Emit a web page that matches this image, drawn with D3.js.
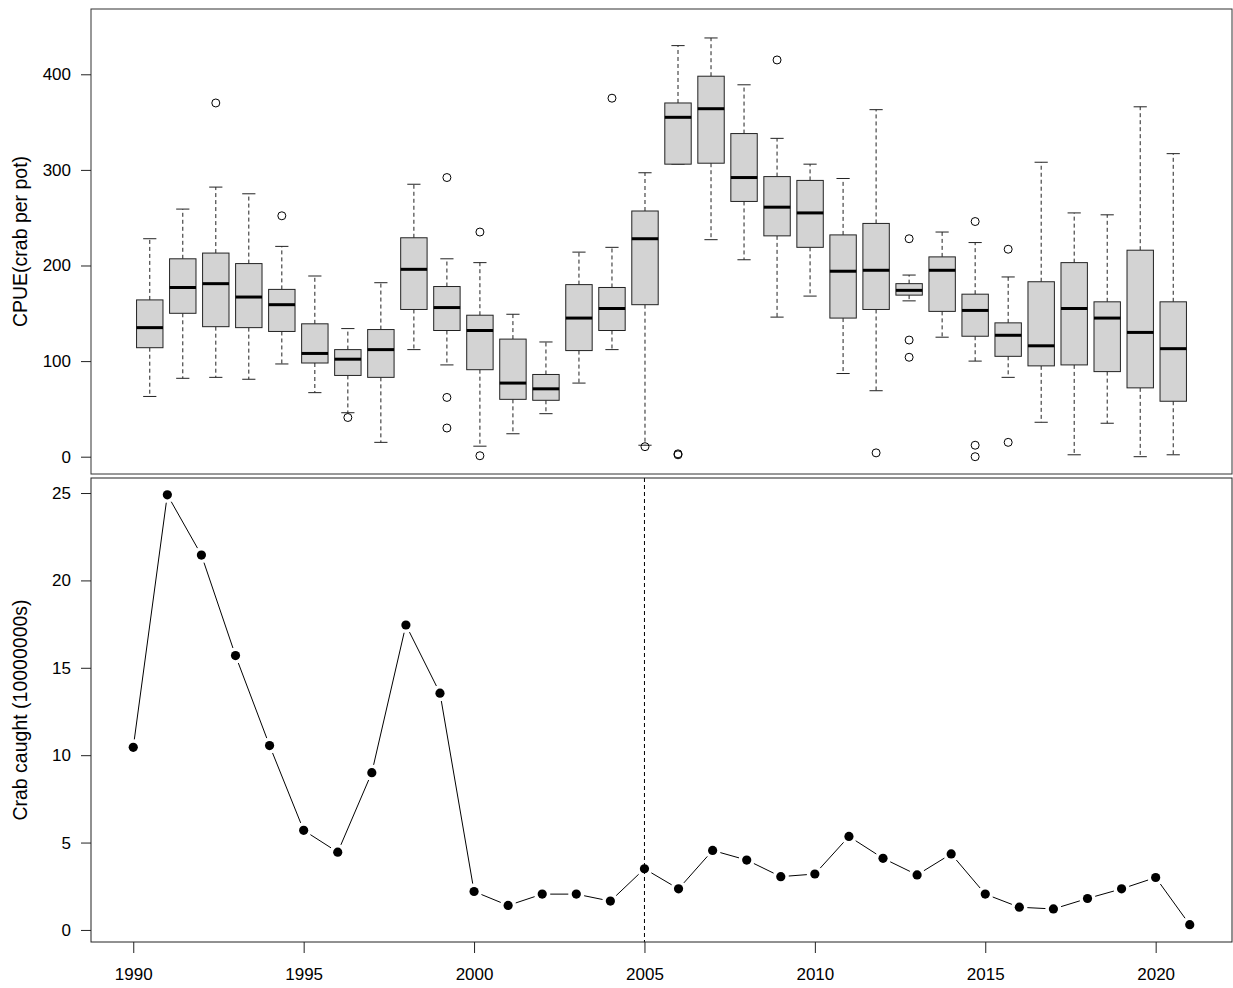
<!DOCTYPE html>
<html>
<head>
<meta charset="utf-8">
<script src="https://d3js.org/d3.v7.min.js"></script>
<style>
  body { margin: 0; background: #fff; }
  text { font-family: "Liberation Sans", Arial, sans-serif; }
</style>
</head>
<body>
<svg id="chart" width="1233" height="988"></svg>
<script>
// years of the survey
var years = [1990,1991,1992,1993,1994,1995,1996,1997,1998,1999,2000,2001,2002,2003,2004,2005,
             2006,2007,2008,2009,2010,2011,2012,2013,2014,2015,2016,2017,2018,2019,2020,2021];

// boxplot stats of CPUE
var whiskLo = [63,82,83,81,97,67,46,15,112,96,11,24,45,77,112,12,306,227,206,146,168,87,69,163,125,100,83,36,2,35,0,2];
var q1      = [114,150,136,135,131,98,85,83,154,132,91,60,59,111,132,159,306,307,267,231,219,145,154,169,152,126,105,95,96,89,72,58];
var med     = [135,177,181,167,159,108,102,112,196,156,132,77,71,145,155,228,355,364,292,261,255,194,195,174,195,153,127,116,155,145,130,113];
var q3      = [164,207,213,202,175,139,112,133,229,178,148,123,86,180,177,257,370,398,338,293,289,232,244,181,209,170,140,183,203,162,216,162];
var whiskHi = [228,259,282,275,220,189,134,182,285,207,203,149,120,214,219,297,430,438,389,333,306,291,363,190,235,224,188,308,255,253,366,317];
var outliers = [[],[],[370],[],[252],[],[41],[],[],[292,62,30],[235,1],[],[],[],[375],[10.5],
                [2,3],[],[],[415],[],[],[4],[228,122,104],[],[246,12,0],[217,15],[],[],[],[],[]];

// crab caught (10000000s)
var caught = [10.45,24.9,21.45,15.7,10.55,5.7,4.45,9.0,17.45,13.55,2.2,1.4,2.05,2.05,1.65,3.5,
              2.35,4.55,4.0,3.05,3.2,5.35,4.1,3.15,4.35,2.05,1.3,1.2,1.8,2.35,3.0,0.3];

var cpueTicks = [0,100,200,300,400];
var catchTicks = [0,5,10,15,20,25];
var yearTicks = [1990,1995,2000,2005,2010,2015,2020];
var breakYear = 2005;

var svg = d3.select("#chart");
var L = 91, R = 1232;
var top1 = 9, bot1 = 474, top2 = 478, bot2 = 942;
var fs = "17px", fsLab = "19.5px";

// ---------- top panel : boxplots ----------
var n = years.length;
var xb = d3.scaleLinear().domain([0.5 - 0.04*n, n + 0.5 + 0.04*n]).range([L, R]);
var y1 = d3.scaleLinear().domain([-18.1, 468.3]).range([bot1, top1]);

var bw = xb(0.4) - xb(0);   // half box width
var sw = xb(0.2) - xb(0);   // half staple width

var gb = svg.append("g");
years.forEach(function(yr, i) {
  var cx = xb(i + 1);
  var g = gb.append("g");
  // whiskers
  g.append("line").attr("x1", cx).attr("x2", cx).attr("y1", y1(q3[i])).attr("y2", y1(whiskHi[i]))
    .attr("stroke", "#222").attr("stroke-dasharray", "4,3");
  g.append("line").attr("x1", cx).attr("x2", cx).attr("y1", y1(q1[i])).attr("y2", y1(whiskLo[i]))
    .attr("stroke", "#222").attr("stroke-dasharray", "4,3");
  // staples
  [whiskHi[i], whiskLo[i]].forEach(function(v) {
    g.append("line").attr("x1", cx - sw).attr("x2", cx + sw).attr("y1", y1(v)).attr("y2", y1(v))
      .attr("stroke", "#222");
  });
  // box
  g.append("rect").attr("x", cx - bw).attr("width", 2*bw)
    .attr("y", y1(q3[i])).attr("height", y1(q1[i]) - y1(q3[i]))
    .attr("fill", "#d3d3d3").attr("stroke", "#222");
  // median
  g.append("line").attr("x1", cx - bw).attr("x2", cx + bw).attr("y1", y1(med[i])).attr("y2", y1(med[i]))
    .attr("stroke", "#000").attr("stroke-width", 3);
  // outliers
  g.selectAll("circle").data(outliers[i]).enter().append("circle")
    .attr("cx", cx).attr("cy", function(d) { return y1(d); }).attr("r", 4)
    .attr("fill", "none").attr("stroke", "#000");
});

svg.append("rect").attr("x", L).attr("y", top1).attr("width", R - L).attr("height", bot1 - top1)
  .attr("fill", "none").attr("stroke", "#333");

var ay1 = svg.append("g").attr("transform", "translate(" + L + ",0)")
  .call(d3.axisLeft(y1).tickValues(cpueTicks).tickSize(10).tickPadding(10));
ay1.select(".domain").remove();
ay1.selectAll("text").style("font-size", fs).attr("fill", "#000");
ay1.selectAll("line").attr("stroke", "#222");

svg.append("text").attr("transform", "translate(27," + ((top1 + bot1)/2) + ") rotate(-90)")
  .attr("text-anchor", "middle").style("font-size", fsLab).text("CPUE(crab per pot)");

// ---------- bottom panel : catch ----------
var span = years[n-1] - years[0];
var x2 = d3.scaleLinear().domain([years[0] - 0.04*span, years[n-1] + 0.04*span]).range([L, R]);
var y2 = d3.scaleLinear().domain([-0.69, 25.86]).range([bot2, top2]);

// dashed reference line
svg.append("line").attr("x1", x2(breakYear)).attr("x2", x2(breakYear)).attr("y1", top2).attr("y2", bot2)
  .attr("stroke", "#000").attr("stroke-dasharray", "4,3");

// line segments with gaps round the points (type = "b")
var gap = 8;
var gl = svg.append("g");
for (var i = 0; i < n - 1; i++) {
  var ax = x2(years[i]), ay = y2(caught[i]), bx = x2(years[i+1]), by = y2(caught[i+1]);
  var dx = bx - ax, dy = by - ay, len = Math.sqrt(dx*dx + dy*dy);
  if (len <= 2*gap) continue;
  var ux = dx/len, uy = dy/len;
  gl.append("line")
    .attr("x1", ax + ux*gap).attr("y1", ay + uy*gap)
    .attr("x2", bx - ux*gap).attr("y2", by - uy*gap)
    .attr("stroke", "#000").attr("stroke-width", 1);
}

svg.append("g").selectAll("circle").data(caught).enter().append("circle")
  .attr("cx", function(d, i) { return x2(years[i]); })
  .attr("cy", function(d) { return y2(d); })
  .attr("r", 4.6).attr("fill", "#000");

svg.append("rect").attr("x", L).attr("y", top2).attr("width", R - L).attr("height", bot2 - top2)
  .attr("fill", "none").attr("stroke", "#222");

var ay2 = svg.append("g").attr("transform", "translate(" + L + ",0)")
  .call(d3.axisLeft(y2).tickValues(catchTicks).tickSize(10).tickPadding(10));
ay2.select(".domain").remove();
ay2.selectAll("text").style("font-size", fs).attr("fill", "#000");
ay2.selectAll("line").attr("stroke", "#222");

var ax2 = svg.append("g").attr("transform", "translate(0," + bot2 + ")")
  .call(d3.axisBottom(x2).tickValues(yearTicks).tickFormat(d3.format("d")).tickSize(11).tickPadding(15));
ax2.select(".domain").remove();
ax2.selectAll("text").style("font-size", fs).attr("fill", "#000");
ax2.selectAll("line").attr("stroke", "#222");

svg.append("text").attr("transform", "translate(27," + ((top2 + bot2)/2) + ") rotate(-90)")
  .attr("text-anchor", "middle").style("font-size", fsLab).text("Crab caught (10000000s)");
</script>
</body>
</html>
